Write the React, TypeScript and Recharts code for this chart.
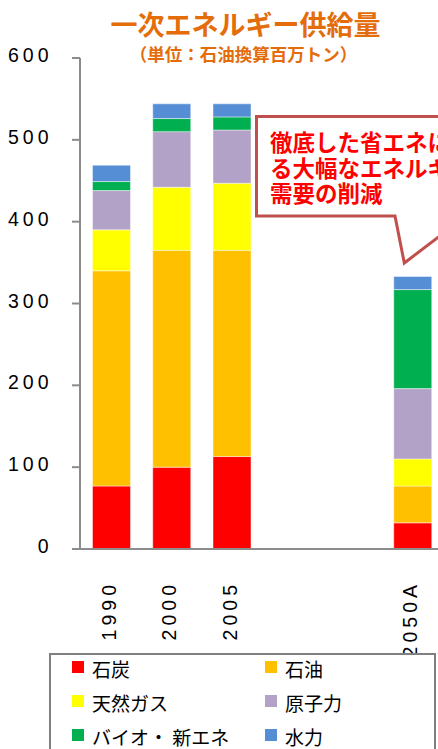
import React from 'react'
import { BarChart, Bar, XAxis, YAxis } from 'recharts'

// categories (two blank slots between 2005 and 2050A)
const years = ['1990', '2000', '2005', '', '', '2050A']

// series values, 石油換算百万トン
const coal = [77, 100, 113, null, null, 32]
const oil = [263, 265, 252, null, null, 45]
const gas = [50, 77, 82, null, null, 33]
const nuclear = [48, 68, 65, null, null, 86]
const bio = [11, 16, 16, null, null, 121]
const hydro = [20, 18, 16, null, null, 16]

const yTicks = [0, 100, 200, 300, 400, 500, 600]

const series = [
  { key: 'coal', name: '石炭', color: '#FF0000', values: coal },
  { key: 'oil', name: '石油', color: '#FFC000', values: oil },
  { key: 'gas', name: '天然ガス', color: '#FFFF00', values: gas },
  { key: 'nuclear', name: '原子力', color: '#B3A2C7', values: nuclear },
  { key: 'bio', name: 'バイオ・ 新エネ', color: '#00B050', values: bio },
  { key: 'hydro', name: '水力', color: '#558ED5', values: hydro },
]

// legend reads row by row, two columns
const legendOrder = ['coal', 'oil', 'gas', 'nuclear', 'bio', 'hydro']

const chartData = years.map((year, i) => {
  const row: any = { year }
  series.forEach(s => {
    row[s.key] = s.values[i]
  })
  return row
})

const numFont = '"Liberation Sans", Arial, sans-serif'
const jpFont = '"Noto Sans CJK JP", "Noto Sans", sans-serif'

const YTick = ({ y, payload }: any) => (
  <text
    x={52.5}
    y={y + 4}
    textAnchor="end"
    fontFamily={numFont}
    fontSize={19.5}
    letterSpacing={4}
    fill="#000"
  >
    {payload.value}
  </text>
)

const XTick = ({ x, y, payload }: any) => {
  if (!payload.value) return null
  const px = x + 4.5
  const py = y + 32
  return (
    <text
      x={px}
      y={py}
      transform={`rotate(-90, ${px}, ${py})`}
      textAnchor="end"
      fontFamily={numFont}
      fontSize={19.5}
      letterSpacing={4}
      fill="#000"
    >
      {payload.value}
    </text>
  )
}

export default function App() {
  return (
    <div
      style={{
        position: 'fixed',
        left: 0,
        top: 0,
        width: 438,
        height: 749,
        overflow: 'hidden',
        background: '#fff',
      }}
    >
      {/* title */}
      <div
        style={{
          position: 'absolute',
          left: 0,
          width: 491,
          top: 6,
          textAlign: 'center',
          fontFamily: jpFont,
          fontWeight: 700,
          fontSize: 27,
          lineHeight: '36px',
          color: '#E46C0A',
          whiteSpace: 'nowrap',
        }}
      >
        一次エネルギー供給量
      </div>
      <div
        style={{
          position: 'absolute',
          left: 0,
          width: 487,
          top: 42,
          textAlign: 'center',
          fontFamily: jpFont,
          fontWeight: 700,
          fontSize: 17.5,
          lineHeight: '23px',
          color: '#E46C0A',
          whiteSpace: 'nowrap',
        }}
      >
        （単位：石油換算百万トン）
      </div>

      <div style={{ position: 'absolute', left: 0, top: 0 }}>
        <BarChart
          width={448}
          height={660}
          data={chartData}
          margin={{ top: 58, right: 5, left: 0, bottom: 0 }}
        >
          <XAxis
            dataKey="year"
            height={111}
            interval={0}
            tickLine={false}
            tickSize={0}
            tickMargin={0}
            padding={{ left: 1.5, right: 0 }}
            axisLine={{ stroke: '#8C8C8C', strokeWidth: 2 }}
            tick={<XTick />}
          />
          <YAxis
            width={80}
            domain={[0, 600]}
            ticks={yTicks}
            interval={0}
            tickSize={8}
            axisLine={{ stroke: '#8C8C8C', strokeWidth: 2 }}
            tickLine={{ stroke: '#8C8C8C', strokeWidth: 2 }}
            tick={<YTick />}
          />
          {series.map(s => (
            <Bar
              key={s.key}
              dataKey={s.key}
              name={s.name}
              stackId="a"
              fill={s.color}
              barSize={38}
              stroke="#ffffff"
              strokeOpacity={0.45}
              strokeWidth={1}
              isAnimationActive={false}
            />
          ))}
        </BarChart>
      </div>

      {/* callout */}
      <svg
        width={438}
        height={749}
        style={{ position: 'absolute', left: 0, top: 0, pointerEvents: 'none' }}
      >
        <path
          d="M256.5,116.5 H520 V216 H466 L404.3,263 L395,216 H256.5 Z"
          fill="#fff"
          stroke="#C0504D"
          strokeWidth={3}
          strokeLinejoin="miter"
        />
      </svg>
      <div
        style={{
          position: 'absolute',
          left: 270,
          top: 129,
          fontFamily: jpFont,
          fontWeight: 700,
          fontSize: 22.5,
          lineHeight: '25.5px',
          color: '#FF0000',
          whiteSpace: 'nowrap',
        }}
      >
        徹底した省エネによ
        <br />
        る大幅なエネルギー
        <br />
        需要の削減
      </div>

      {/* legend */}
      <div
        style={{
          position: 'absolute',
          left: 49,
          top: 652.7,
          width: 383,
          height: 140,
          border: '2px solid #808080',
          background: '#fff',
        }}
      >
        <div
          style={{
            display: 'grid',
            gridTemplateColumns: '193px 1fr',
            gridAutoRows: '34px',
            paddingLeft: 21,
            marginTop: -3,
          }}
        >
          {legendOrder.map(k => {
            const s = series.find(x => x.key === k)!
            return (
              <div key={k} style={{ display: 'flex', alignItems: 'center' }}>
                <span
                  style={{
                    display: 'inline-block',
                    width: 12,
                    height: 12,
                    background: s.color,
                    marginTop: -3,
                    marginRight: 8,
                    flex: 'none',
                  }}
                />
                <span
                  style={{
                    fontFamily: jpFont,
                    fontSize: 19,
                    lineHeight: '24px',
                    color: '#000',
                    whiteSpace: 'nowrap',
                  }}
                >
                  {s.name}
                </span>
              </div>
            )
          })}
        </div>
      </div>
    </div>
  )
}
